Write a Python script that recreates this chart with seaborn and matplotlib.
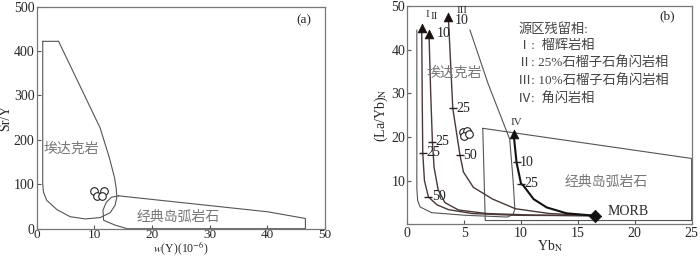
import numpy as np
import pandas as pd
import matplotlib
matplotlib.use("Agg")
import matplotlib.pyplot as plt
import seaborn as sns

sns.set_style("ticks")
plt.rcParams["font.family"] = ["Liberation Serif", "Noto Sans CJK SC"]
plt.rcParams["mathtext.fontset"] = "stix"
plt.rcParams["axes.edgecolor"] = "#777777"
plt.rcParams["axes.linewidth"] = 0.9

# ---------------- Panel (a) data ----------------
a_adakite_x = [1.05, 3.8, 11.0, 12.6, 13.5, 13.8, 13.9, 13.6, 12.75, 11.0, 8.4, 5.8, 3.5, 1.74, 1.16, 1.05, 1.05]
a_adakite_y = [422, 422, 227, 160, 115, 90, 71, 53, 36, 25, 22, 27, 43, 64, 83, 101, 422]
a_arc_x = [14.2, 40.1, 46.6, 46.6, 15.7, 13.6, 11.6, 11.5, 12.1, 13.0, 14.2]
a_arc_y = [74, 38, 23, 0, 0, 8, 19, 42, 60, 71, 74]
a_sample_Y = [10.0, 11.6, 10.5, 11.3]
a_sample_SrY = [86, 85, 74, 73]

# ---------------- Panel (b) data ----------------
b_adakite_x = [0.83, 0.83, 0.9, 1.12, 2.14, 5.07, 8.8, 9.3, 9.45, 9.3, 9.0, 7.1, 5.5]
b_adakite_y = [44.5, 8.2, 5.5, 4.0, 2.7, 2.1, 1.7, 2.3, 3.5, 10.0, 19.5, 32.2, 44.5]
b_arc_x = [6.63, 25.0, 25.0, 6.85, 6.63]
b_arc_y = [22.0, 15.1, 0.9, 0.9, 22.0]
b_sample_Yb = [4.9, 5.25, 5.0, 5.4]
b_sample_LaYb = [21.2, 21.3, 20.3, 20.6]

curve1_x = [1.26, 1.30, 1.35, 1.5, 1.85, 2.6, 3.6, 5.7, 9.5, 16.5]
curve1_y = [45.0, 30.0, 16.4, 10.0, 6.3, 4.5, 3.4, 2.5, 2.1, 2.0]
curve2_x = [1.9, 2.05, 2.2, 2.35, 2.7, 3.3, 4.5, 7.0, 11.0, 16.5]
curve2_y = [43.5, 30.0, 18.9, 13.0, 8.0, 5.0, 3.3, 2.5, 2.15, 2.0]
curve3_x = [3.6, 3.8, 3.99, 4.63, 4.93, 5.8, 7.5, 9.5, 12.5, 16.5]
curve3_y = [47.5, 37.0, 26.6, 15.8, 12.0, 8.5, 5.8, 3.6, 2.5, 2.0]
curve4_x = [9.35, 9.6, 10.0, 10.2, 11.1, 12.25, 14.0, 16.5]
curve4_y = [20.6, 14.2, 9.3, 8.9, 5.8, 3.9, 2.55, 2.0]
morb_x = [16.5]
morb_y = [2.0]

# tick marks on the melting curves: (x, y, label)
curve_ticks_x = [1.35, 1.85, 2.2, 3.99, 4.63, 9.6, 10.0]
curve_ticks_y = [16.4, 6.3, 18.9, 26.6, 15.8, 14.2, 9.3]
curve_ticks_lab = ["25", "50", "25", "25", "50", "10", "25"]

legend_lines = ["源区残留相:", "Ⅰ:  榴辉岩相", "Ⅱ: 25%石榴子石角闪岩相",
                "Ⅲ: 10%石榴子石角闪岩相", "Ⅳ:  角闪岩相"]

fig = plt.figure(figsize=(7.0, 2.58), dpi=100)
axa = fig.add_axes([0.0524, 0.1136, 0.4119, 0.8605])
axb = fig.add_axes([0.582, 0.130, 0.406, 0.847])

poly_c = "#555555"
cjk = ["Noto Sans CJK SC", "DejaVu Sans"]

# ---- panel a ----
sns.lineplot(x=a_adakite_x, y=a_adakite_y, sort=False, estimator=None, ax=axa,
             color=poly_c, lw=0.8)
sns.lineplot(x=a_arc_x, y=a_arc_y, sort=False, estimator=None, ax=axa,
             color=poly_c, lw=0.8)
sns.scatterplot(x=a_sample_Y, y=a_sample_SrY, ax=axa, marker="o", s=30,
                facecolor="white", edgecolor="#222222", linewidth=0.8, zorder=5)
axa.set_xlim(0, 50)
axa.set_ylim(0, 500)
axa.set_xticks([0, 10, 20, 30, 40, 50])
axa.set_yticks([0, 100, 200, 300, 400, 500])
axa.tick_params(direction="in", labelsize=10, length=3, color="#555555", pad=1.5)
axa.tick_params(axis="x", labelsize=9.5, pad=0.5)
axa.set_xlabel("$w$(Y)(10$^{-6}$)", fontsize=8.5, labelpad=-1.5)
axa.set_ylabel("Sr/Y", fontsize=10, labelpad=1)
axa.text(47.7, 469, "(a)", fontsize=9.5, ha="right", va="center")
axa.text(1.2, 179, "埃达克岩", fontsize=10, color="#777777", family=cjk, va="center")
axa.text(17.4, 27, "经典岛弧岩石", fontsize=10, color="#777777", family=cjk, va="center")

# ---- panel b ----
sns.lineplot(x=b_adakite_x, y=b_adakite_y, sort=False, estimator=None, ax=axb,
             color=poly_c, lw=0.8)
sns.lineplot(x=b_arc_x, y=b_arc_y, sort=False, estimator=None, ax=axb,
             color=poly_c, lw=0.8)
curve_c = "#4a3838"
for cx, cy in [(curve1_x, curve1_y), (curve2_x, curve2_y), (curve3_x, curve3_y)]:
    sns.lineplot(x=cx, y=cy, sort=False, estimator=None, ax=axb, color=curve_c, lw=1.0)
    sns.scatterplot(x=cx[:1], y=cy[:1], ax=axb, marker="^", s=40, color="#1a1010",
                    edgecolor="#1a1010", zorder=6)
sns.lineplot(x=curve4_x, y=curve4_y, sort=False, estimator=None, ax=axb, color="#111111", lw=1.5)
sns.scatterplot(x=curve4_x[:1], y=curve4_y[:1], ax=axb, marker="^", s=40, color="#111111",
                edgecolor="#111111", zorder=6)
sns.scatterplot(x=morb_x, y=morb_y, ax=axb, marker="D", s=40, color="#111111",
                edgecolor="#111111", zorder=6)
sns.scatterplot(x=b_sample_Yb, y=b_sample_LaYb, ax=axb, marker="o", s=30,
                facecolor="white", edgecolor="#222222", linewidth=0.8, zorder=5)
sns.scatterplot(x=curve_ticks_x, y=curve_ticks_y, ax=axb, marker="_", s=40,
                color="#222222", linewidth=1.0, zorder=6)
for tx, ty, tl in zip(curve_ticks_x, curve_ticks_y, curve_ticks_lab):
    axb.text(tx + 0.3, ty, tl, fontsize=10, ha="left", va="center", color="#222222")
axb.text(2.6, 43.8, "10", fontsize=10, ha="left", va="center", color="#222222")
axb.text(4.2, 46.6, "10", fontsize=10, ha="left", va="center", color="#222222")
axb.text(1.75, 48.0, "I", fontsize=8, ha="center", va="center", color="#333333")
axb.text(2.4, 47.6, "II", fontsize=8, ha="center", va="center", color="#333333")
axb.text(4.8, 49.0, "III", fontsize=8, ha="center", va="center", color="#333333")
axb.text(9.6, 23.4, "IV", fontsize=8, ha="center", va="center", color="#333333")
axb.text(17.6, 2.9, "MORB", fontsize=10, ha="left", va="center")
axb.text(23.5, 47.6, "(b)", fontsize=9.5, ha="right", va="center")
axb.text(1.7, 34.8, "埃达克岩", fontsize=10, color="#777777", family=cjk, va="center")
axb.text(13.86, 9.7, "经典岛弧岩石", fontsize=10, color="#777777", family=cjk, va="center")
leg_y = [44.5, 40.75, 36.97, 32.8, 28.6]
for ly, lt in zip(leg_y, legend_lines):
    axb.text(9.76, ly, lt, fontsize=9.5, ha="left", va="center", color="#444444",
             family=["Liberation Serif", "Noto Sans CJK SC"])
axb.set_xlim(0, 25)
axb.set_ylim(0, 50)
axb.set_xticks([0, 5, 10, 15, 20, 25])
axb.set_yticks([10, 20, 30, 40, 50])
axb.tick_params(direction="in", labelsize=10, length=3, color="#555555", pad=1.5)
axb.set_xlabel("Yb$_\\mathrm{N}$", fontsize=10, labelpad=-1)
axb.set_ylabel("(La/Yb)$_\\mathrm{N}$", fontsize=10, labelpad=1)

fig.savefig("out.png", dpi=100)
